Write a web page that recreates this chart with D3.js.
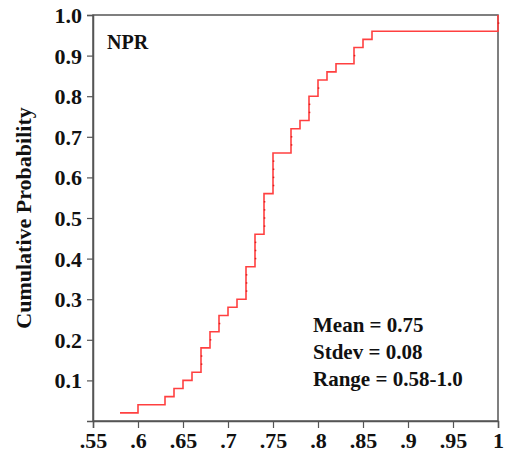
<!DOCTYPE html>
<html>
<head>
<meta charset="utf-8">
<script src="https://cdn.jsdelivr.net/npm/d3@7"></script>
<style>
  body { margin: 0; background: #fff; }
  text { font-family: "Liberation Serif", "Times New Roman", serif; font-weight: bold; }
</style>
</head>
<body>
<svg id="chart" width="507" height="454"></svg>
<script>
// NPR observations (distinct values) and how many times each occurs
var nprValues = [0.58, 0.60, 0.63, 0.64, 0.65, 0.66, 0.67, 0.68, 0.69, 0.70, 0.71,
                 0.72, 0.73, 0.74, 0.75, 0.77, 0.78, 0.79, 0.80, 0.81, 0.82,
                 0.84, 0.85, 0.86, 1.00];
var nprCounts = [1, 1, 1, 1, 1, 1, 3, 2, 2, 1, 1,
                 4, 4, 5, 5, 3, 1, 3, 2, 1, 1,
                 2, 1, 1, 2];
var xTicks = [0.55, 0.6, 0.65, 0.7, 0.75, 0.8, 0.85, 0.9, 0.95, 1];
var xTickLabels = [".55", ".6", ".65", ".7", ".75", ".8", ".85", ".9", ".95", "1"];
var yTicks = [0.1, 0.2, 0.3, 0.4, 0.5, 0.6, 0.7, 0.8, 0.9, 1.0];
var statLines = ["Mean = 0.75", "Stdev = 0.08", "Range = 0.58-1.0"];

var svg = d3.select("#chart");
var plotL = 93, plotR = 498, plotT = 15, plotB = 421;

var x = d3.scaleLinear().domain([0.55, 1]).range([plotL, plotR]);
var y = d3.scaleLinear().domain([0, 1]).range([plotB, plotT]);

var n = d3.sum(nprCounts);
var cum = Array.from(d3.cumsum(nprCounts), function(c) { return c / n; });

// step points: each value jumps to its cumulative prob, held until next value
var pts = nprValues.map(function(v, i) { return [v, cum[i]]; });
pts.push([1, 1]);

// frame
svg.append("rect")
    .attr("x", plotL).attr("y", plotT)
    .attr("width", plotR - plotL).attr("height", plotB - plotT)
    .attr("fill", "none").attr("stroke", "#555").attr("stroke-width", 1.5);

// axes
var xAxis = d3.axisBottom(x).tickValues(xTicks)
    .tickFormat(function(d, i) { return xTickLabels[i]; })
    .tickSize(7).tickPadding(5);
var gx = svg.append("g").attr("transform", "translate(0," + plotB + ")").call(xAxis);

var yAxis = d3.axisLeft(y).tickValues(yTicks)
    .tickFormat(d3.format(".1f")).tickSize(6).tickPadding(5);
var gy = svg.append("g").attr("transform", "translate(" + plotL + ",0)").call(yAxis);

[gx, gy].forEach(function(g) {
    g.select(".domain").attr("stroke", "#555").attr("stroke-width", 1.5);
    g.selectAll(".tick line").attr("stroke", "#555").attr("stroke-width", 1.2);
    g.selectAll("text").attr("fill", "#111")
        .style("font-family", '"Liberation Serif", serif')
        .style("font-weight", "bold").style("font-size", "22px");
});
gx.selectAll("text").attr("dy", "0.7em");
gy.selectAll("text").attr("dy", "0.34em");

// cumulative step line
var line = d3.line()
    .x(function(d) { return x(d[0]); })
    .y(function(d) { return y(d[1]); })
    .curve(d3.curveStepAfter);

svg.append("path")
    .datum(pts)
    .attr("d", line)
    .attr("fill", "none")
    .attr("stroke", "#ff4040")
    .attr("stroke-width", 1.6);

// small markers for each observation inside a jump
var obs = [];
nprValues.forEach(function(v, i) {
    var start = i === 0 ? 0 : cum[i - 1] * n;
    for (var k = 1; k < nprCounts[i]; k++) obs.push([v, (start + k) / n]);
});
svg.selectAll(".obs")
    .data(obs)
    .enter().append("rect")
    .attr("class", "obs")
    .attr("x", function(d) { return x(d[0]) - 0.2; })
    .attr("y", function(d) { return y(d[1]) - 0.75; })
    .attr("width", 1.5).attr("height", 1.5)
    .attr("fill", "#e02020");

// labels
svg.append("text")
    .attr("transform", "translate(31," + (plotT + plotB) / 2 + ") rotate(-90)")
    .attr("text-anchor", "middle")
    .attr("fill", "#111")
    .style("font-size", "22px")
    .text("Cumulative Probability");

svg.append("text")
    .attr("x", 107).attr("y", 49)
    .attr("fill", "#111")
    .style("font-size", "20px")
    .text("NPR");

svg.selectAll(".stat")
    .data(statLines)
    .enter().append("text")
    .attr("class", "stat")
    .attr("x", 313)
    .attr("y", function(d, i) { return 332 + i * 27; })
    .attr("fill", "#111")
    .style("font-size", "21px")
    .text(function(d) { return d; });
</script>
</body>
</html>
